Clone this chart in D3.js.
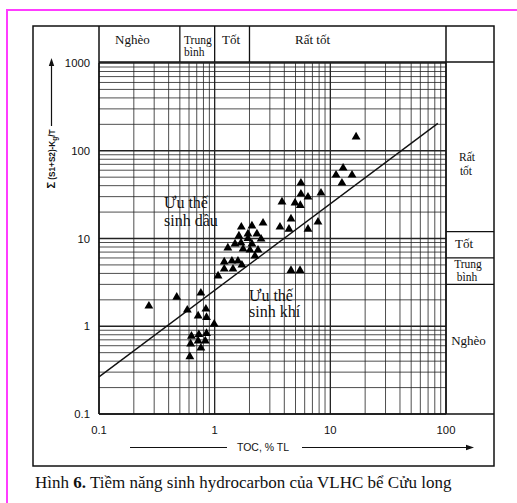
<!DOCTYPE html>
<html>
<head>
<meta charset="utf-8">
<script src="https://cdn.jsdelivr.net/npm/d3@7"></script>
<style>
  html, body { margin: 0; padding: 0; background: #fff; }
  svg { display: block; }
</style>
</head>
<body>
<svg id="chart" width="517" height="503"></svg>
<script>
// ---------------- data ----------------
const tocValues = [
  0.27, 0.47, 0.76, 0.58, 0.84, 0.72, 0.85, 0.99, 0.63, 0.73, 0.85, 0.62, 0.72, 0.83, 0.76, 0.61,
  1.07, 1.21, 1.21, 1.41, 1.44, 1.59, 1.72, 1.30, 1.50, 1.76, 2.02, 2.37, 2.23, 1.62, 1.70, 1.94,
  2.10, 2.32, 1.94, 2.52, 1.69, 2.10, 2.62,
  16.7, 12.9, 11.2, 15.4, 12.6, 5.57, 5.57, 6.41, 8.30, 3.82, 4.95, 5.5, 4.57, 3.67, 4.39, 6.41,
  7.82, 4.57, 5.47
];
const s1s2Values = [
  1.70, 2.15, 2.39, 1.53, 1.57, 1.31, 1.26, 1.06, 0.77, 0.805, 0.83, 0.63, 0.68, 0.68, 0.565, 0.45,
  3.74, 5.40, 4.49, 5.54, 4.49, 5.54, 4.99, 7.80, 8.66, 7.59, 7.39, 7.39, 6.32, 10.7, 13.5, 11.3,
  13.9, 11.3, 10.0, 9.87, 8.89, 8.66, 15.0,
  143.5, 63.6, 52.9, 52.9, 42.9, 42.9, 32.1, 29.7, 33.0, 26.1, 25.4, 23.8, 16.7, 13.5, 12.8, 12.8,
  15.4, 4.32, 4.32
];
// dividing line between oil-prone and gas-prone
const lineToc = [0.1, 85];
const lineS = [0.265, 205];

const xTickValues = [0.1, 1, 10, 100];
const xTickLabels = ["0.1", "1", "10", "100"];
const yTickValues = [0.1, 1, 10, 100, 1000];
const yTickLabels = ["0.1", "1", "10", "100", "1000"];

// classification bands
const tocBands = [0.5, 1, 2];                 // top header dividers (TOC)
const tocBandLabels = ["Nghèo", ["Trung", "bình"], "Tốt", "Rất tốt"];
const sBands = [12, 6, 3];                     // right column dividers (S1+S2)
const sBandLabels = [["Rất", "tốt"], "Tốt", ["Trung", "bình"], "Nghèo"];

const regionLabelOil = ["Ưu thế", "sinh dầu"];
const regionLabelGas = ["Ưu thế", "sinh khí"];
const xTitle = "TOC, % TL";
const caption = ["Hình ", "6.", " Tiềm năng sinh hydrocarbon của VLHC bể Cửu long"];

// ---------------- layout ----------------
const svg = d3.select("#chart");
const serif = "'Liberation Serif', 'Times New Roman', serif";
const sans = "'Liberation Sans', Arial, sans-serif";

const x = d3.scaleLog().domain([0.1, 100]).range([99, 446]);
const y = d3.scaleLog().domain([0.1, 1000]).range([414, 63]);

const boxL = 33, boxR = 494, boxT = 26, boxB = 466;
const headerB = 62;

// magenta page frame
svg.append("line").attr("x1", 7).attr("x2", 517).attr("y1", 10).attr("y2", 10)
  .attr("stroke", "#ff3cff").attr("stroke-width", 2);
svg.append("line").attr("x1", 7).attr("x2", 7).attr("y1", 9).attr("y2", 503)
  .attr("stroke", "#ff3cff").attr("stroke-width", 2);

// outer box
svg.append("rect").attr("x", boxL).attr("y", boxT).attr("width", boxR - boxL).attr("height", boxB - boxT)
  .attr("fill", "none").attr("stroke", "#111").attr("stroke-width", 1.5);

// grid
const grid = svg.append("g");
function logTicks(lo, hi) {
  const out = [];
  for (let k = lo; k < hi; k++) for (let m = 1; m <= 9; m++) out.push(m * Math.pow(10, k));
  out.push(Math.pow(10, hi));
  return out;
}
const isDecade = d => Math.abs(Math.log10(d) - Math.round(Math.log10(d))) < 1e-6;
const xGrid = logTicks(-1, 2);
const yGrid = logTicks(-1, 3);
grid.selectAll("line.vx").data(xGrid).join("line")
  .attr("x1", d => x(d)).attr("x2", d => x(d)).attr("y1", y(1000)).attr("y2", y(0.1))
  .attr("stroke", "#222").attr("stroke-width", d => isDecade(d) ? 1.3 : 0.8);
grid.selectAll("line.hy").data(yGrid).join("line")
  .attr("x1", x(0.1)).attr("x2", x(100)).attr("y1", d => y(d)).attr("y2", d => y(d))
  .attr("stroke", "#222").attr("stroke-width", d => isDecade(d) ? 1.3 : 0.8);

// plot frame lines
svg.append("line").attr("x1", x(0.1)).attr("x2", x(0.1)).attr("y1", boxT).attr("y2", y(0.1))
  .attr("stroke", "#111").attr("stroke-width", 1.5);
svg.append("line").attr("x1", x(100)).attr("x2", x(100)).attr("y1", boxT).attr("y2", y(0.1))
  .attr("stroke", "#111").attr("stroke-width", 1.5);
svg.append("line").attr("x1", x(0.1)).attr("x2", boxR).attr("y1", y(0.1)).attr("y2", y(0.1))
  .attr("stroke", "#111").attr("stroke-width", 1.5);
svg.append("line").attr("x1", x(0.1)).attr("x2", boxR).attr("y1", headerB).attr("y2", headerB)
  .attr("stroke", "#111").attr("stroke-width", 1.3);

// header dividers (TOC bands)
svg.selectAll("line.hdiv").data(tocBands).join("line")
  .attr("x1", d => x(d)).attr("x2", d => x(d)).attr("y1", boxT).attr("y2", headerB)
  .attr("stroke", "#111").attr("stroke-width", 1.3);

// right column dividers (S1+S2 bands)
svg.selectAll("line.rdiv").data(sBands).join("line")
  .attr("x1", x(100)).attr("x2", boxR).attr("y1", d => y(d)).attr("y2", d => y(d))
  .attr("stroke", "#111").attr("stroke-width", 1.2);

// header labels
const hdr = svg.append("g").attr("font-family", serif).attr("fill", "#111");
hdr.append("text").attr("x", 115).attr("y", 43.5).attr("font-size", 13).text(tocBandLabels[0]);
hdr.append("text").attr("x", 184).attr("y", 43.5).attr("font-size", 11.5).text(tocBandLabels[1][0]);
hdr.append("text").attr("x", 184).attr("y", 55.5).attr("font-size", 11.5).text(tocBandLabels[1][1]);
hdr.append("text").attr("x", 222).attr("y", 43.5).attr("font-size", 13).text(tocBandLabels[2]);
hdr.append("text").attr("x", 295).attr("y", 43.5).attr("font-size", 13).text(tocBandLabels[3]);

// right column labels
const rc = svg.append("g").attr("font-family", serif).attr("fill", "#111").attr("font-size", 13)
  .attr("text-anchor", "middle");
rc.append("text").attr("x", 467).attr("y", 161).attr("font-size", 11.5).text(sBandLabels[0][0]);
rc.append("text").attr("x", 466).attr("y", 174.5).attr("font-size", 11.5).text(sBandLabels[0][1]);
rc.append("text").attr("x", 464).attr("y", 247.5).text(sBandLabels[1]);
rc.append("text").attr("x", 468).attr("y", 267.5).attr("font-size", 11.5).text(sBandLabels[2][0]);
rc.append("text").attr("x", 467).attr("y", 280.5).attr("font-size", 11.5).text(sBandLabels[2][1]);
rc.append("text").attr("x", 468.5).attr("y", 344.5).text(sBandLabels[3]);

// tick labels
const tl = svg.append("g").attr("font-family", sans).attr("font-size", 11.3).attr("fill", "#111");
tl.selectAll("text.yt").data(yTickValues).join("text")
  .attr("x", 90).attr("y", d => y(d) + 4).attr("text-anchor", "end")
  .text((d, i) => yTickLabels[i]);
tl.selectAll("text.xt").data(xTickValues).join("text")
  .attr("x", d => x(d)).attr("y", 434).attr("text-anchor", "middle")
  .text((d, i) => xTickLabels[i]);

// x-axis title with arrow
svg.append("text").attr("x", 263).attr("y", 451).attr("text-anchor", "middle")
  .attr("font-family", sans).attr("font-size", 10.5).attr("fill", "#111").text(xTitle);
svg.append("line").attr("x1", 130).attr("x2", 227).attr("y1", 447.5).attr("y2", 447.5)
  .attr("stroke", "#111").attr("stroke-width", 1.2);
svg.append("line").attr("x1", 302).attr("x2", 468).attr("y1", 447.5).attr("y2", 447.5)
  .attr("stroke", "#111").attr("stroke-width", 1.2);
svg.append("path").attr("d", "M474,447.5 L466,444.8 L466,450.2 Z").attr("fill", "#111");

// y-axis title with arrow
const yt = svg.append("text").attr("transform", "translate(55,159) rotate(-90)")
  .attr("text-anchor", "middle").attr("font-family", sans).attr("font-weight", "bold")
  .attr("font-size", 8.2).attr("fill", "#111");
yt.append("tspan").attr("font-size", 11).text("Σ");
yt.append("tspan").text(" (S1+S2)-K");
yt.append("tspan").attr("font-size", 6.5).attr("dy", 2).text("g");
yt.append("tspan").attr("dy", -2).text("/T");
svg.append("line").attr("x1", 51.5).attr("x2", 51.5).attr("y1", 66).attr("y2", 126)
  .attr("stroke", "#111").attr("stroke-width", 1.2);
svg.append("path").attr("d", "M51.5,58 L48.8,66 L54.2,66 Z").attr("fill", "#111");

// dividing line
svg.append("path")
  .datum(lineToc.map((t, i) => [t, lineS[i]]))
  .attr("d", d3.line().x(d => x(d[0])).y(d => y(d[1])))
  .attr("fill", "none").attr("stroke", "#111").attr("stroke-width", 1.4);

// data points
const pts = tocValues.map((t, i) => [t, s1s2Values[i]]);
svg.append("g").selectAll("path").data(pts).join("path")
  .attr("transform", d => `translate(${x(d[0])},${y(d[1])})`)
  .attr("d", d3.symbol().type(d3.symbolTriangle).size(34))
  .attr("fill", "#000");

// region labels
const rl = svg.append("g").attr("font-family", serif).attr("font-size", 16).attr("fill", "#111");
rl.append("text").attr("x", 164).attr("y", 208).text(regionLabelOil[0]);
rl.append("text").attr("x", 164).attr("y", 226).text(regionLabelOil[1]);
rl.append("text").attr("x", 249).attr("y", 301).text(regionLabelGas[0]);
rl.append("text").attr("x", 249).attr("y", 317).text(regionLabelGas[1]);

// caption
const cap = svg.append("text").attr("x", 35).attr("y", 488).attr("font-family", serif)
  .attr("font-size", 17).attr("fill", "#111");
cap.append("tspan").text(caption[0]);
cap.append("tspan").attr("font-weight", "bold").text(caption[1]);
cap.append("tspan").text(caption[2]);
</script>
</body>
</html>
